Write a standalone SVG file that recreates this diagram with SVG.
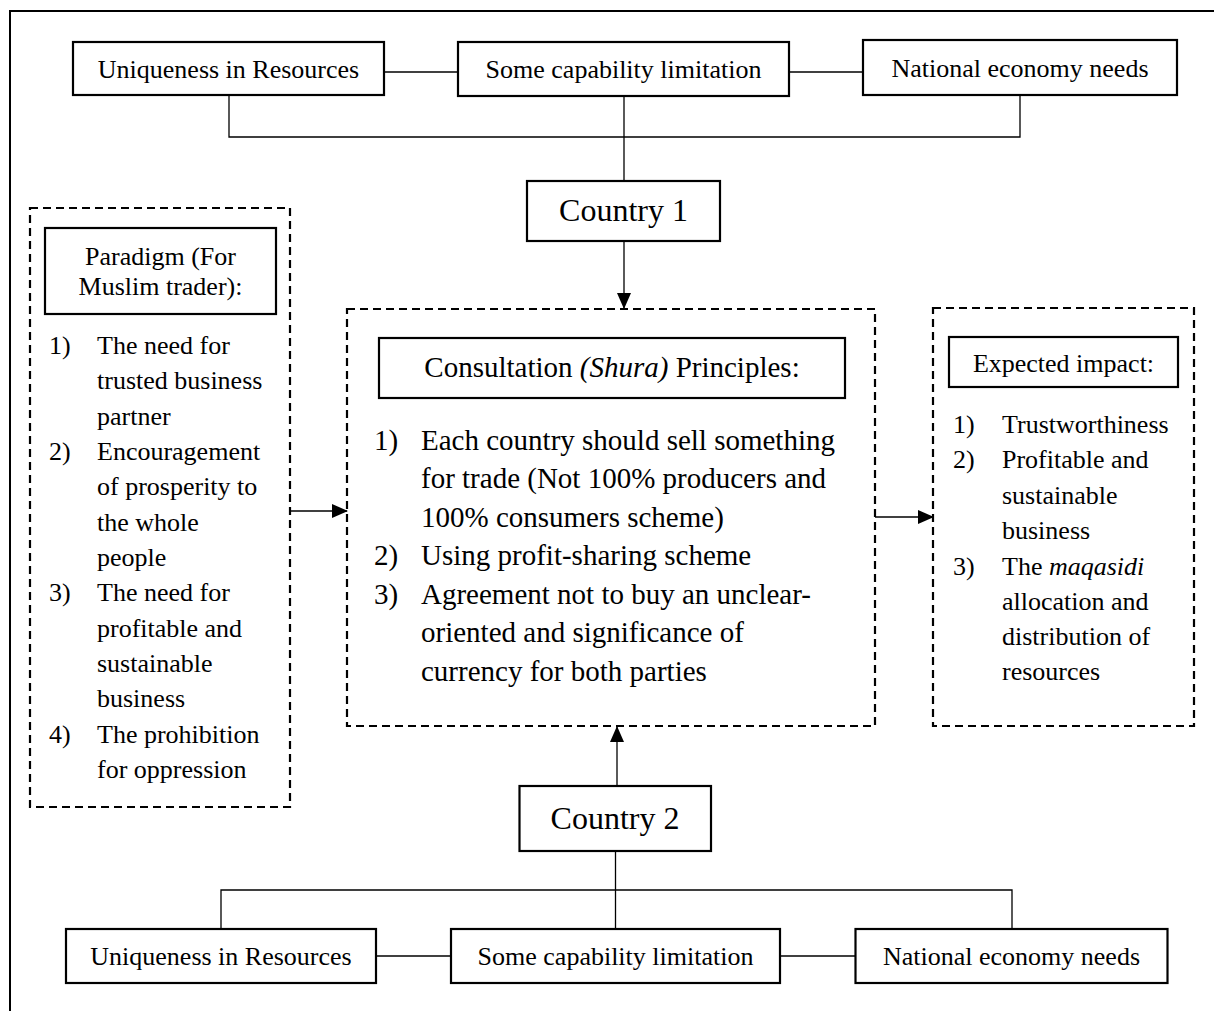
<svg xmlns="http://www.w3.org/2000/svg" width="1214" height="1011" viewBox="0 0 1214 1011">
<defs>
<style>
text{font-family:"Liberation Serif","Times New Roman",serif;fill:#000}
.box{fill:#fff;stroke:#000;stroke-width:2.2}
.dash{fill:none;stroke:#000;stroke-width:2.2;stroke-dasharray:8,5}
.c{stroke:#000;stroke-width:1.3;fill:none}
.t26{font-size:26px}
.t29{font-size:29px}
.t32{font-size:32px}
.mid{text-anchor:middle}
</style>
<marker id="ah" markerWidth="16" markerHeight="14" refX="15" refY="7" orient="auto" markerUnits="userSpaceOnUse">
<path d="M0,0 L16,7 L0,14 Z" fill="#000"/>
</marker>
</defs>
<rect width="1214" height="1011" fill="#fff"/>
<rect x="10" y="11" width="1230" height="1030" fill="none" stroke="#000" stroke-width="2"/>

<g id="connectors">
<line class="c" x1="384" y1="72" x2="458" y2="72"/>
<line class="c" x1="789" y1="72" x2="863" y2="72"/>
<polyline class="c" points="229,95 229,137 1020,137 1020,95"/>
<line class="c" x1="624" y1="96" x2="624" y2="181"/>
<line class="c" x1="624" y1="241" x2="624" y2="308" marker-end="url(#ah)"/>
<line class="c" x1="290" y1="511" x2="347" y2="511" marker-end="url(#ah)"/>
<line class="c" x1="875" y1="517" x2="933" y2="517" marker-end="url(#ah)"/>
<line class="c" x1="617" y1="786" x2="617" y2="727" marker-end="url(#ah)"/>
<line class="c" x1="615.5" y1="851" x2="615.5" y2="929"/>
<polyline class="c" points="221,929 221,890 1012,890 1012,929"/>
<line class="c" x1="376" y1="956" x2="451" y2="956"/>
<line class="c" x1="780" y1="956" x2="855.5" y2="956"/>
</g>

<g id="top-uniqueness">
<rect class="box" x="73" y="42" width="311" height="53"/>
<text class="t26 mid" x="228.5" y="78">Uniqueness in Resources</text>
</g>
<g id="top-capability">
<rect class="box" x="458" y="42" width="331" height="54"/>
<text class="t26 mid" x="623.5" y="78">Some capability limitation</text>
</g>
<g id="top-national">
<rect class="box" x="863" y="40" width="314" height="55"/>
<text class="t26 mid" x="1020" y="77">National economy needs</text>
</g>

<g id="country1">
<rect class="box" x="527" y="181" width="193" height="60"/>
<text class="t32 mid" x="623.5" y="221">Country 1</text>
</g>

<g id="paradigm">
<rect class="dash" x="30" y="208" width="260" height="599"/>
<rect class="box" x="45" y="228" width="231" height="86"/>
<text class="t26 mid" x="160.5" y="265">Paradigm (For</text>
<text class="t26 mid" x="160.5" y="295">Muslim trader):</text>
<g class="t26">
<text x="49" y="354">1)</text>
<text x="97" y="354">The need for</text>
<text x="97" y="389">trusted business</text>
<text x="97" y="425">partner</text>
<text x="49" y="460">2)</text>
<text x="97" y="460">Encouragement</text>
<text x="97" y="495">of prosperity to</text>
<text x="97" y="531">the whole</text>
<text x="97" y="566">people</text>
<text x="49" y="601">3)</text>
<text x="97" y="601">The need for</text>
<text x="97" y="637">profitable and</text>
<text x="97" y="672">sustainable</text>
<text x="97" y="707">business</text>
<text x="49" y="743">4)</text>
<text x="97" y="743">The prohibition</text>
<text x="97" y="778">for oppression</text>
</g>
</g>

<g id="consultation">
<rect class="dash" x="347" y="309" width="528" height="417"/>
<rect class="box" x="379" y="338" width="466" height="60"/>
<text class="t29 mid" x="612" y="377">Consultation <tspan font-style="italic">(Shura)</tspan> Principles:</text>
<g class="t29">
<text x="374" y="450">1)</text>
<text x="421" y="450">Each country should sell something</text>
<text x="421" y="488">for trade (Not 100% producers and</text>
<text x="421" y="527">100% consumers scheme)</text>
<text x="374" y="565">2)</text>
<text x="421" y="565">Using profit-sharing scheme</text>
<text x="374" y="604">3)</text>
<text x="421" y="604">Agreement not to buy an unclear-</text>
<text x="421" y="642">oriented and significance of</text>
<text x="421" y="681">currency for both parties</text>
</g>
</g>

<g id="impact">
<rect class="dash" x="933" y="308" width="261" height="418"/>
<rect class="box" x="949" y="337" width="229" height="50"/>
<text class="t26 mid" x="1063.5" y="372">Expected impact:</text>
<g class="t26">
<text x="953" y="433">1)</text>
<text x="1002" y="433">Trustworthiness</text>
<text x="953" y="468">2)</text>
<text x="1002" y="468">Profitable and</text>
<text x="1002" y="504">sustainable</text>
<text x="1002" y="539">business</text>
<text x="953" y="575">3)</text>
<text x="1002" y="575">The <tspan font-style="italic">maqasidi</tspan></text>
<text x="1002" y="610">allocation and</text>
<text x="1002" y="645">distribution of</text>
<text x="1002" y="680">resources</text>
</g>
</g>

<g id="country2">
<rect class="box" x="519.5" y="786" width="191.5" height="65"/>
<text class="t32 mid" x="615" y="829">Country 2</text>
</g>

<g id="bottom-uniqueness">
<rect class="box" x="66" y="929" width="310" height="54"/>
<text class="t26 mid" x="221" y="965">Uniqueness in Resources</text>
</g>
<g id="bottom-capability">
<rect class="box" x="451" y="929" width="329" height="54"/>
<text class="t26 mid" x="615.5" y="965">Some capability limitation</text>
</g>
<g id="bottom-national">
<rect class="box" x="855.5" y="929" width="312" height="54"/>
<text class="t26 mid" x="1011.5" y="965">National economy needs</text>
</g>
</svg>
